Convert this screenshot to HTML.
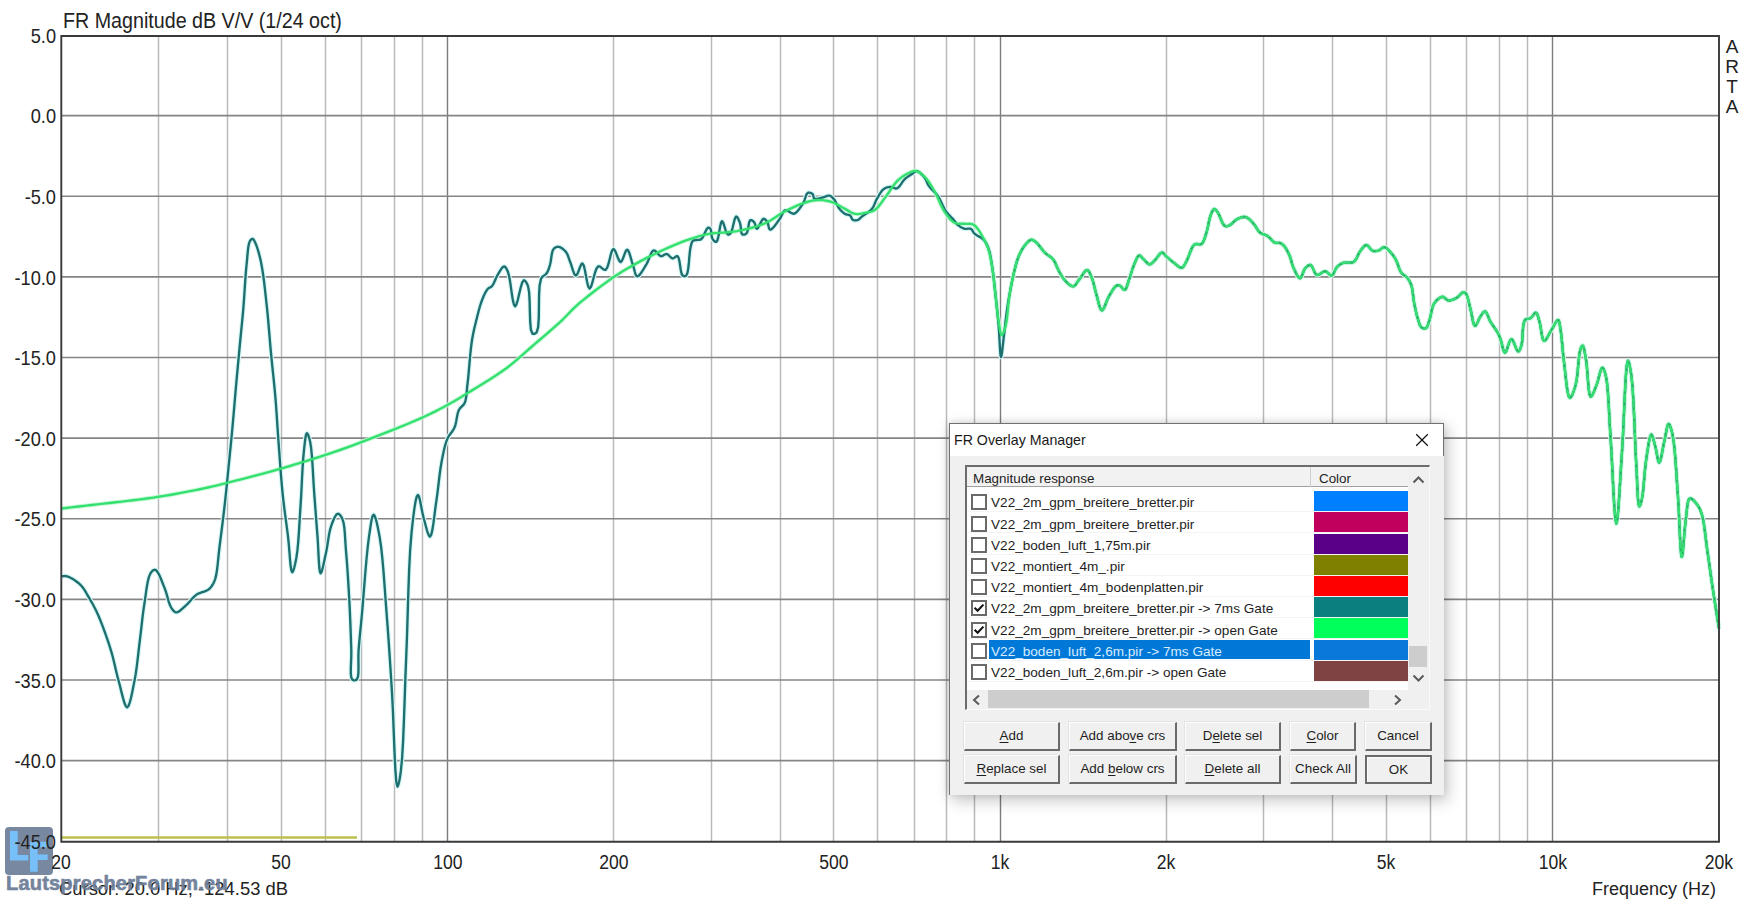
<!DOCTYPE html>
<html><head><meta charset="utf-8"><style>
*{margin:0;padding:0;box-sizing:border-box}
html,body{width:1760px;height:902px;overflow:hidden;background:#fff;font-family:"Liberation Sans",sans-serif;color:#222}
.abs{position:absolute}
.yl{position:absolute;left:0;width:56px;text-align:right;font-size:19.8px;line-height:22px;color:#222;transform:scaleX(0.92);transform-origin:56px 0}
.xl{position:absolute;top:851px;width:80px;text-align:center;font-size:19.5px;line-height:22px;color:#222;transform:scaleX(0.9)}
#title{position:absolute;left:63px;top:8.5px;font-size:21.4px;line-height:24px;color:#222;transform:scaleX(0.92);transform-origin:0 0;white-space:nowrap}
#arta{position:absolute;left:1723px;top:37px;font-size:19px;line-height:20px;width:18px;text-align:center;color:#222}
#cursor{position:absolute;left:59px;top:878px;font-size:18.4px;line-height:22px;color:#222}
#freq{position:absolute;left:1592px;top:878px;font-size:18px;line-height:22px;color:#222}
svg{position:absolute;left:0;top:0}
#lf{position:absolute;left:6px;top:871px;font-size:20px;line-height:24px;font-weight:bold;color:#6a7b96;opacity:0.93;letter-spacing:0.2px;-webkit-text-stroke:0.6px #6a7b96}
.d{position:absolute}
#dshadow{position:absolute;left:949px;top:423px;width:495px;height:372px;box-shadow:3px 5px 14px 1px rgba(0,0,0,0.22), -1px -1px 7px rgba(0,0,0,0.10)}
#dbg{position:absolute;left:949px;top:423px;width:495px;height:372px;background:#f0f0f0}
#dtb{position:absolute;left:949px;top:423px;width:495px;height:33px;background:#fff;border:1px solid #707070;border-bottom:none}
#dlb{position:absolute;left:949px;top:423px;width:1px;height:372px;background:#707070}
#dtt{position:absolute;left:954px;top:432px;font-size:14.2px;line-height:17px;color:#1a1a1a;white-space:nowrap}
#lvb{position:absolute;left:965px;top:465px;width:465px;height:245px;background:#fff;border-top:2px solid #6c6c6c;border-left:2px solid #6c6c6c;border-right:1px solid #fafafa;border-bottom:1px solid #fafafa}
#lvh{position:absolute;left:967px;top:467px;width:441px;height:20px;background:#f2f2f2;border-bottom:1px solid #a0a0a0}
.ht{position:absolute;top:471px;font-size:13.4px;line-height:16px;color:#1e1e1e;white-space:nowrap}
#lvd{position:absolute;left:1310px;top:467px;width:1px;height:20px;background:#cfcfcf}
.cb{position:absolute;left:971px;width:16px;height:16px;border:2px solid #6a6a6a;background:#fff}
.rt{position:absolute;left:991px;font-size:13.6px;line-height:17px;color:#1e1e1e;white-space:nowrap}
.sw{position:absolute;left:1314px;width:94px;height:20px}
.sep{position:absolute;left:967px;width:441px;height:1px;background:#f4f4f4}
#sel{position:absolute;left:989px;top:640px;width:321px;height:19px;background:#0078d7}
#vsb{position:absolute;left:1408px;top:467px;width:21px;height:223px;background:#f0f0f0}
#vth{position:absolute;left:1409px;top:646px;width:18px;height:21px;background:#cdcdcd}
#hsb{position:absolute;left:967px;top:690px;width:462px;height:19px;background:#f0f0f0}
#hth{position:absolute;left:988px;top:690px;width:381px;height:18px;background:#cdcdcd}
.btn{position:absolute;height:29px;background:#f0f0f0;border-top:1px solid #fdfdfd;border-left:1px solid #fdfdfd;border-right:2px solid #6a6a6a;border-bottom:2px solid #6a6a6a;font-size:13.4px;line-height:26px;text-align:center;color:#1e1e1e;box-shadow:-1px -1px 0 #e3e3e3}
.btn u{text-decoration:underline;text-underline-offset:2px;text-decoration-thickness:1px}
.btn.ok{border:2px solid #6a6a6a;box-shadow:inset 1px 1px 0 #fdfdfd}

</style></head><body>
<svg width="60" height="60" style="position:absolute;left:0;top:820px;opacity:0.92">
<rect x="5" y="7" width="48" height="48" rx="4" fill="#6c7e98"/>
<path d="M10 11H17.7V35H28.3V40.5H10Z" fill="#6cbaf8"/>
<path d="M30 21.8H47.7V27.3H37.7V34.5H47.7V40H37.7V51.8H30Z" fill="#6cbaf8"/>
</svg>
<div id="title">FR Magnitude dB V/V (1/24 oct)</div>
<div class="yl" style="top:24.7px">5.0</div><div class="yl" style="top:105.3px">0.0</div><div class="yl" style="top:185.9px">-5.0</div><div class="yl" style="top:266.6px">-10.0</div><div class="yl" style="top:347.2px">-15.0</div><div class="yl" style="top:427.8px">-20.0</div><div class="yl" style="top:508.4px">-25.0</div><div class="yl" style="top:589.1px">-30.0</div><div class="yl" style="top:669.7px">-35.0</div><div class="yl" style="top:750.3px">-40.0</div><div class="yl" style="top:830.9px">-45.0</div>
<div class="xl" style="left:21.4px">20</div><div class="xl" style="left:241.3px">50</div><div class="xl" style="left:407.6px">100</div><div class="xl" style="left:573.9px">200</div><div class="xl" style="left:793.8px">500</div><div class="xl" style="left:960.1px">1k</div><div class="xl" style="left:1126.4px">2k</div><div class="xl" style="left:1346.3px">5k</div><div class="xl" style="left:1512.6px">10k</div><div class="xl" style="left:1678.9px">20k</div>
<div id="arta">A<br>R<br>T<br>A</div>
<div id="cursor">Cursor: 20.0 Hz, -124.53 dB</div>
<div id="freq">Frequency (Hz)</div>
<svg width="1760" height="902">
<line x1="158.5" y1="36" x2="158.5" y2="841" stroke="#bababa" stroke-width="1.5"/>
<line x1="227.5" y1="36" x2="227.5" y2="841" stroke="#bababa" stroke-width="1.5"/>
<line x1="281.5" y1="36" x2="281.5" y2="841" stroke="#bababa" stroke-width="1.5"/>
<line x1="325.5" y1="36" x2="325.5" y2="841" stroke="#bababa" stroke-width="1.5"/>
<line x1="361.5" y1="36" x2="361.5" y2="841" stroke="#bababa" stroke-width="1.5"/>
<line x1="394.5" y1="36" x2="394.5" y2="841" stroke="#bababa" stroke-width="1.5"/>
<line x1="422.5" y1="36" x2="422.5" y2="841" stroke="#bababa" stroke-width="1.5"/>
<line x1="447.5" y1="36" x2="447.5" y2="841" stroke="#7c7c7c" stroke-width="1.4"/>
<line x1="613.5" y1="36" x2="613.5" y2="841" stroke="#bababa" stroke-width="1.5"/>
<line x1="711.5" y1="36" x2="711.5" y2="841" stroke="#bababa" stroke-width="1.5"/>
<line x1="780.5" y1="36" x2="780.5" y2="841" stroke="#bababa" stroke-width="1.5"/>
<line x1="833.5" y1="36" x2="833.5" y2="841" stroke="#bababa" stroke-width="1.5"/>
<line x1="877.5" y1="36" x2="877.5" y2="841" stroke="#bababa" stroke-width="1.5"/>
<line x1="914.5" y1="36" x2="914.5" y2="841" stroke="#bababa" stroke-width="1.5"/>
<line x1="946.5" y1="36" x2="946.5" y2="841" stroke="#bababa" stroke-width="1.5"/>
<line x1="974.5" y1="36" x2="974.5" y2="841" stroke="#bababa" stroke-width="1.5"/>
<line x1="1000.5" y1="36" x2="1000.5" y2="841" stroke="#7c7c7c" stroke-width="1.4"/>
<line x1="1166.5" y1="36" x2="1166.5" y2="841" stroke="#bababa" stroke-width="1.5"/>
<line x1="1263.5" y1="36" x2="1263.5" y2="841" stroke="#bababa" stroke-width="1.5"/>
<line x1="1332.5" y1="36" x2="1332.5" y2="841" stroke="#bababa" stroke-width="1.5"/>
<line x1="1386.5" y1="36" x2="1386.5" y2="841" stroke="#bababa" stroke-width="1.5"/>
<line x1="1430.5" y1="36" x2="1430.5" y2="841" stroke="#bababa" stroke-width="1.5"/>
<line x1="1466.5" y1="36" x2="1466.5" y2="841" stroke="#bababa" stroke-width="1.5"/>
<line x1="1499.5" y1="36" x2="1499.5" y2="841" stroke="#bababa" stroke-width="1.5"/>
<line x1="1527.5" y1="36" x2="1527.5" y2="841" stroke="#bababa" stroke-width="1.5"/>
<line x1="1552.5" y1="36" x2="1552.5" y2="841" stroke="#7c7c7c" stroke-width="1.4"/>
<line x1="61" y1="115.60" x2="1719" y2="115.60" stroke="#858585" stroke-width="1.6"/>
<line x1="61" y1="196.22" x2="1719" y2="196.22" stroke="#858585" stroke-width="1.6"/>
<line x1="61" y1="276.85" x2="1719" y2="276.85" stroke="#858585" stroke-width="1.6"/>
<line x1="61" y1="357.48" x2="1719" y2="357.48" stroke="#858585" stroke-width="1.6"/>
<line x1="61" y1="438.10" x2="1719" y2="438.10" stroke="#858585" stroke-width="1.6"/>
<line x1="61" y1="518.73" x2="1719" y2="518.73" stroke="#858585" stroke-width="1.6"/>
<line x1="61" y1="599.35" x2="1719" y2="599.35" stroke="#858585" stroke-width="1.6"/>
<line x1="61" y1="679.98" x2="1719" y2="679.98" stroke="#858585" stroke-width="1.6"/>
<line x1="61" y1="760.60" x2="1719" y2="760.60" stroke="#858585" stroke-width="1.6"/>
<line x1="61" y1="837.5" x2="357" y2="837.5" stroke="#bcbf4a" stroke-width="2.7"/>
<defs><polyline id="ct" fill="none" stroke-linejoin="round" points="61.00,576.30 62.00,576.25 62.97,576.15 63.95,576.05 64.94,576.00 65.99,576.07 67.10,576.30 69.12,577.06 71.38,578.18 73.76,579.60 76.14,581.23 78.39,582.99 80.40,584.80 82.16,586.74 83.74,588.86 85.20,591.12 86.58,593.47 87.93,595.84 89.30,598.20 90.72,600.61 92.10,603.04 93.45,605.52 94.77,608.03 96.05,610.59 97.30,613.20 98.57,616.03 99.79,618.92 100.97,621.87 102.12,624.86 103.26,627.91 104.40,631.00 105.63,634.39 106.84,637.82 108.04,641.31 109.22,644.87 110.37,648.53 111.50,652.30 112.73,656.80 113.89,661.49 115.02,666.30 116.15,671.16 117.34,675.98 118.60,680.70 119.94,685.82 121.36,691.63 122.82,697.41 124.29,702.44 125.73,705.98 127.10,707.30 128.43,706.00 129.74,702.58 131.03,697.69 132.27,691.98 133.43,686.10 134.50,680.70 135.64,674.40 136.62,667.67 137.49,660.70 138.30,653.63 139.09,646.64 139.90,639.90 140.64,633.81 141.33,627.79 142.00,621.84 142.69,615.95 143.44,610.14 144.30,604.40 145.14,598.71 145.97,592.68 146.85,586.70 147.85,581.20 149.05,576.60 150.50,573.30 151.22,572.26 152.00,571.34 152.81,570.59 153.64,570.05 154.48,569.77 155.30,569.80 156.87,571.00 158.51,573.55 160.16,577.01 161.77,580.94 163.30,584.89 164.70,588.40 165.87,591.61 166.87,595.01 167.80,598.43 168.73,601.68 169.73,604.60 170.90,607.00 171.69,608.29 172.50,609.51 173.35,610.60 174.23,611.50 175.18,612.12 176.20,612.40 177.64,612.14 179.22,611.27 180.90,609.97 182.63,608.42 184.34,606.80 186.00,605.30 187.77,603.62 189.50,601.73 191.21,599.75 192.95,597.83 194.74,596.07 196.60,594.60 198.38,593.60 200.29,592.81 202.25,592.15 204.13,591.54 205.85,590.92 207.30,590.20 208.07,589.71 208.74,589.24 209.34,588.77 209.90,588.25 210.44,587.67 211.00,587.00 211.79,585.94 212.56,584.77 213.30,583.47 214.01,582.03 214.68,580.41 215.30,578.60 216.27,574.60 217.04,569.79 217.68,564.39 218.26,558.65 218.84,552.77 219.50,547.00 220.36,540.32 221.24,533.39 222.13,526.28 223.02,519.09 223.88,511.90 224.70,504.80 225.48,497.71 226.23,490.54 226.95,483.37 227.66,476.29 228.34,469.37 229.00,462.70 229.55,457.26 230.06,452.12 230.56,447.10 231.06,442.03 231.57,436.76 232.10,431.10 232.82,423.14 233.58,414.54 234.35,405.59 235.12,396.59 235.88,387.86 236.60,379.70 237.17,373.40 237.73,367.38 238.27,361.54 238.81,355.79 239.35,350.04 239.90,344.20 240.47,338.33 241.04,332.51 241.62,326.70 242.19,320.83 242.76,314.85 243.30,308.70 243.86,301.44 244.39,293.77 244.89,285.97 245.41,278.30 245.97,271.02 246.60,264.40 247.04,259.79 247.45,255.13 247.87,250.69 248.37,246.71 249.03,243.43 249.90,241.10 250.31,240.46 250.75,239.90 251.22,239.44 251.69,239.11 252.16,238.92 252.60,238.90 253.11,239.14 253.60,239.65 254.08,240.38 254.55,241.27 255.02,242.26 255.50,243.30 256.44,245.56 257.39,248.27 258.34,251.35 259.27,254.74 260.16,258.35 261.00,262.10 262.12,268.10 263.14,274.77 264.08,281.92 264.95,289.36 265.78,296.88 266.60,304.30 267.43,312.25 268.18,320.38 268.89,328.62 269.58,336.87 270.27,345.06 271.00,353.10 271.74,360.62 272.50,368.06 273.27,375.44 274.02,382.79 274.74,390.13 275.40,397.50 275.98,404.81 276.50,412.06 276.99,419.31 277.46,426.61 277.96,434.02 278.50,441.60 279.13,450.18 279.77,459.04 280.43,468.03 281.13,477.01 281.89,485.81 282.70,494.30 283.51,501.64 284.39,508.82 285.31,515.86 286.24,522.80 287.14,529.64 288.00,536.40 288.71,543.35 289.35,551.17 289.97,558.90 290.62,565.61 291.35,570.36 292.20,572.20 292.85,571.60 293.56,569.87 294.31,567.32 295.06,564.22 295.77,560.85 296.40,557.50 297.38,550.63 298.18,542.38 298.86,533.21 299.45,523.59 300.01,513.97 300.60,504.80 301.16,495.71 301.65,486.25 302.11,476.79 302.59,467.70 303.14,459.34 303.80,452.10 304.24,447.96 304.70,443.72 305.18,439.74 305.70,436.40 306.27,434.10 306.90,433.20 307.39,433.51 307.93,434.43 308.50,435.83 309.06,437.58 309.61,439.55 310.10,441.60 311.10,447.80 311.90,455.99 312.56,465.46 313.14,475.48 313.70,485.33 314.30,494.30 314.86,501.62 315.40,508.79 315.93,515.82 316.44,522.75 316.97,529.60 317.50,536.40 317.96,543.53 318.36,551.58 318.76,559.56 319.22,566.49 319.82,571.39 320.60,573.30 321.34,572.36 322.20,569.77 323.13,566.05 324.09,561.72 325.03,557.30 325.90,553.30 326.78,548.86 327.56,544.06 328.31,539.14 329.11,534.32 330.05,529.83 331.20,525.90 332.16,523.26 333.23,520.55 334.36,518.00 335.52,515.85 336.68,514.34 337.80,513.70 338.59,513.84 339.41,514.38 340.22,515.24 341.01,516.35 341.74,517.63 342.40,519.00 343.50,522.60 344.26,527.25 344.78,532.69 345.17,538.62 345.54,544.79 346.00,550.90 346.68,559.01 347.32,567.74 347.93,576.84 348.50,586.08 349.03,595.21 349.50,604.00 349.89,611.97 350.23,619.95 350.53,627.84 350.81,635.54 351.06,642.96 351.30,650.00 351.30,655.78 351.06,661.88 350.82,667.80 350.78,673.04 351.16,677.11 352.20,679.50 352.85,679.96 353.64,680.23 354.49,680.32 355.34,680.23 356.13,679.96 356.80,679.50 357.90,677.06 358.40,672.90 358.51,667.56 358.44,661.59 358.40,655.56 358.60,650.00 359.06,644.46 359.55,638.98 360.09,633.41 360.66,627.61 361.27,621.42 361.90,614.70 362.91,602.91 364.00,589.18 365.16,574.60 366.39,560.27 367.67,547.27 369.00,536.70 369.72,531.73 370.44,526.73 371.18,522.11 371.95,518.29 372.75,515.68 373.60,514.70 374.54,515.64 375.55,518.23 376.61,522.05 377.66,526.68 378.67,531.71 379.60,536.70 381.11,546.90 382.42,559.12 383.59,572.67 384.66,586.90 385.68,601.14 386.70,614.70 387.69,627.61 388.61,640.43 389.48,653.24 390.33,666.16 391.16,679.28 392.00,692.70 392.88,710.00 393.67,730.26 394.46,750.77 395.30,768.80 396.26,781.65 397.40,786.60 397.95,785.99 398.54,784.24 399.16,781.60 399.77,778.30 400.36,774.58 400.90,770.70 402.12,757.84 403.10,740.74 403.92,720.75 404.66,699.25 405.40,677.61 406.20,657.20 407.01,636.03 407.69,613.64 408.37,591.09 409.16,569.46 410.16,549.81 411.50,533.20 412.41,524.65 413.41,515.97 414.47,507.90 415.58,501.21 416.73,496.62 417.90,494.90 418.84,496.15 419.80,499.48 420.78,504.16 421.79,509.46 422.83,514.65 423.90,519.00 424.88,522.54 425.92,526.46 426.98,530.30 428.03,533.60 429.05,535.88 430.00,536.70 431.21,534.85 432.33,530.13 433.38,523.48 434.38,515.83 435.35,508.13 436.30,501.30 437.23,494.72 438.08,487.90 438.88,481.01 439.70,474.24 440.59,467.78 441.60,461.80 442.43,457.49 443.27,453.32 444.14,449.34 445.10,445.57 446.17,442.04 447.40,438.80 448.50,436.63 449.74,434.71 451.05,432.94 452.35,431.19 453.56,429.35 454.60,427.30 455.51,424.57 456.18,421.54 456.74,418.39 457.30,415.30 457.98,412.44 458.90,410.00 459.77,408.60 460.78,407.45 461.86,406.43 462.92,405.40 463.89,404.23 464.70,402.80 465.54,400.33 466.11,397.56 466.50,394.51 466.80,391.21 467.10,387.70 467.50,384.00 468.20,377.64 468.87,370.30 469.55,362.48 470.26,354.63 471.04,347.25 471.90,340.80 472.54,336.99 473.21,333.51 473.90,330.25 474.63,327.10 475.39,323.95 476.20,320.70 477.05,317.26 477.93,313.73 478.85,310.21 479.81,306.77 480.82,303.51 481.90,300.50 482.78,298.27 483.70,296.07 484.65,293.98 485.63,292.06 486.65,290.38 487.70,289.00 488.39,288.36 489.12,287.91 489.85,287.55 490.58,287.19 491.31,286.74 492.00,286.10 493.02,284.64 493.97,282.80 494.89,280.72 495.81,278.56 496.77,276.47 497.80,274.60 498.81,272.94 499.88,271.14 500.99,269.40 502.09,267.91 503.13,266.88 504.10,266.50 504.80,266.71 505.46,267.26 506.09,268.10 506.70,269.16 507.30,270.38 507.90,271.70 509.21,276.44 510.38,283.43 511.48,291.30 512.59,298.66 513.77,304.12 515.10,306.30 516.41,304.46 517.82,299.72 519.29,293.52 520.78,287.27 522.26,282.39 523.70,280.30 524.44,280.43 525.19,281.01 525.95,281.94 526.68,283.16 527.37,284.57 528.00,286.10 529.12,292.22 529.63,301.41 529.88,311.89 530.20,321.92 530.93,329.75 532.40,333.60 533.05,333.88 533.78,333.93 534.55,333.77 535.32,333.42 536.05,332.89 536.70,332.20 538.18,327.02 538.78,317.95 538.92,306.79 539.05,295.35 539.60,285.45 541.00,278.90 541.86,277.47 542.86,276.42 543.92,275.60 544.98,274.88 545.96,274.09 546.80,273.10 547.51,271.88 548.10,270.61 548.61,269.28 549.07,267.87 549.53,266.38 550.00,264.80 550.57,262.30 551.03,259.36 551.46,256.28 551.96,253.34 552.64,250.81 553.60,249.00 554.30,248.27 555.08,247.69 555.93,247.24 556.81,246.94 557.71,246.79 558.60,246.80 559.79,247.09 561.08,247.70 562.39,248.56 563.67,249.59 564.86,250.73 565.90,251.90 566.84,253.30 567.61,254.86 568.26,256.56 568.87,258.35 569.50,260.18 570.20,262.00 571.09,264.46 572.00,267.37 572.94,270.34 573.90,272.96 574.88,274.85 575.90,275.60 576.94,274.71 578.03,272.43 579.16,269.46 580.28,266.49 581.37,264.24 582.40,263.40 583.69,265.36 584.88,270.03 586.01,276.06 587.13,282.07 588.31,286.71 589.60,288.60 590.89,287.09 592.19,283.19 593.54,278.03 594.99,272.74 596.56,268.45 598.30,266.30 599.43,266.34 600.65,267.05 601.92,268.10 603.18,269.15 604.39,269.86 605.50,269.90 607.10,267.89 608.47,263.92 609.71,259.01 610.88,254.21 612.08,250.52 613.40,249.00 614.57,249.91 615.77,252.30 616.99,255.45 618.21,258.60 619.42,261.03 620.60,262.00 621.72,261.07 622.84,258.77 623.95,255.80 625.03,252.83 626.08,250.57 627.10,249.70 628.15,250.54 629.16,252.63 630.14,255.53 631.08,258.82 632.00,262.06 632.90,264.80 633.61,267.07 634.25,269.57 634.86,272.03 635.51,274.17 636.27,275.72 637.20,276.40 638.50,275.91 640.03,274.32 641.69,272.00 643.38,269.29 645.02,266.54 646.50,264.10 647.79,261.62 648.96,258.75 650.08,255.85 651.19,253.25 652.38,251.32 653.70,250.40 654.83,250.64 656.03,251.62 657.27,252.99 658.53,254.43 659.78,255.61 661.00,256.20 661.97,256.12 662.93,255.70 663.88,255.11 664.83,254.52 665.77,254.09 666.70,254.00 667.69,254.41 668.67,255.22 669.63,256.22 670.59,257.22 671.54,258.01 672.50,258.40 673.35,258.26 674.23,257.77 675.10,257.12 675.95,256.51 676.76,256.14 677.50,256.20 678.64,257.95 679.46,261.38 680.12,265.66 680.76,270.00 681.54,273.58 682.60,275.60 683.16,275.94 683.78,276.16 684.41,276.23 685.05,276.17 685.65,275.96 686.20,275.60 687.41,273.09 688.25,268.60 688.86,262.95 689.35,257.01 689.86,251.61 690.50,247.60 690.84,246.15 691.14,244.82 691.45,243.62 691.79,242.57 692.23,241.70 692.80,241.00 693.33,240.64 693.92,240.41 694.56,240.28 695.24,240.20 695.92,240.12 696.60,240.00 697.36,239.89 698.15,239.85 698.95,239.82 699.75,239.72 700.54,239.51 701.30,239.10 702.50,237.71 703.67,235.55 704.79,233.06 705.88,230.65 706.91,228.76 707.90,227.80 708.33,227.71 708.75,227.73 709.17,227.85 709.57,228.06 709.95,228.35 710.30,228.70 710.84,229.85 711.17,231.59 711.41,233.65 711.66,235.76 712.02,237.66 712.60,239.10 713.14,239.85 713.76,240.57 714.43,241.21 715.12,241.68 715.79,241.93 716.40,241.90 717.51,240.08 718.46,236.19 719.32,231.29 720.15,226.45 721.02,222.73 722.00,221.20 722.88,222.07 723.80,224.37 724.75,227.43 725.72,230.56 726.70,233.11 727.70,234.40 728.16,234.53 728.63,234.52 729.11,234.39 729.58,234.15 730.05,233.82 730.50,233.40 731.54,231.39 732.52,228.08 733.44,224.19 734.35,220.47 735.26,217.66 736.20,216.50 736.85,216.77 737.53,217.58 738.20,218.78 738.86,220.21 739.47,221.70 740.00,223.10 740.47,224.97 740.75,227.20 740.96,229.53 741.21,231.69 741.62,233.40 742.30,234.40 742.89,234.63 743.60,234.68 744.36,234.56 745.13,234.30 745.86,233.90 746.50,233.40 747.36,231.80 747.97,229.29 748.45,226.38 748.92,223.56 749.50,221.33 750.30,220.20 750.88,220.10 751.53,220.24 752.21,220.56 752.89,221.02 753.54,221.55 754.10,222.10 754.68,223.07 755.14,224.42 755.52,225.89 755.91,227.25 756.34,228.27 756.90,228.70 757.82,228.04 758.88,226.26 760.05,223.91 761.24,221.52 762.41,219.64 763.50,218.80 764.17,218.88 764.85,219.24 765.51,219.82 766.15,220.54 766.75,221.32 767.30,222.10 767.85,223.30 768.26,224.85 768.61,226.50 768.97,228.02 769.44,229.16 770.10,229.70 771.33,229.31 772.87,227.95 774.59,225.94 776.35,223.62 778.04,221.30 779.50,219.30 780.55,217.64 781.48,215.79 782.34,213.94 783.20,212.28 784.13,211.00 785.20,210.30 786.23,210.28 787.37,210.68 788.56,211.34 789.73,212.09 790.83,212.77 791.80,213.20 792.32,213.37 792.78,213.53 793.22,213.67 793.65,213.75 794.10,213.73 794.60,213.60 795.87,212.78 797.32,211.34 798.87,209.47 800.41,207.37 801.85,205.25 803.10,203.30 804.02,201.45 804.78,199.36 805.45,197.25 806.12,195.33 806.87,193.80 807.80,192.90 808.54,192.67 809.37,192.65 810.24,192.80 811.09,193.08 811.86,193.46 812.50,193.90 812.94,194.53 813.21,195.37 813.40,196.33 813.59,197.26 813.90,198.06 814.40,198.60 815.33,198.88 816.51,198.85 817.85,198.62 819.26,198.28 820.67,197.90 822.00,197.60 823.28,197.26 824.60,196.79 825.90,196.29 827.18,195.88 828.39,195.65 829.50,195.70 830.40,196.01 831.23,196.49 832.02,197.12 832.77,197.85 833.49,198.66 834.20,199.50 835.04,200.70 835.80,202.11 836.52,203.63 837.25,205.18 838.02,206.67 838.90,208.00 839.82,209.15 840.80,210.28 841.83,211.35 842.88,212.34 843.95,213.20 845.00,213.90 845.85,214.28 846.73,214.50 847.62,214.64 848.48,214.79 849.28,215.01 850.00,215.40 850.60,216.03 851.07,216.85 851.49,217.75 851.91,218.63 852.39,219.38 853.00,219.90 853.73,220.18 854.56,220.33 855.46,220.36 856.36,220.29 857.22,220.13 858.00,219.90 858.63,219.59 859.19,219.17 859.71,218.66 860.23,218.10 860.82,217.51 861.50,216.90 862.97,215.81 864.74,214.62 866.67,213.31 868.61,211.92 870.40,210.45 871.90,208.90 872.97,207.37 873.83,205.74 874.57,204.03 875.27,202.30 876.02,200.57 876.90,198.90 877.93,197.11 879.01,195.22 880.14,193.35 881.33,191.60 882.58,190.08 883.90,188.90 884.99,188.23 886.15,187.72 887.35,187.35 888.55,187.10 889.75,186.96 890.90,186.90 891.93,187.04 892.94,187.41 893.94,187.87 894.94,188.28 895.92,188.50 896.90,188.40 898.25,187.57 899.57,186.14 900.87,184.33 902.18,182.38 903.51,180.53 904.90,179.00 906.20,177.91 907.57,176.89 908.96,175.94 910.33,175.07 911.62,174.25 912.80,173.50 913.53,172.95 914.19,172.37 914.81,171.82 915.43,171.37 916.09,171.07 916.80,171.00 918.04,171.40 919.43,172.31 920.89,173.59 922.32,175.06 923.66,176.58 924.80,178.00 925.61,179.23 926.26,180.52 926.81,181.85 927.36,183.20 928.00,184.56 928.80,185.90 930.06,187.51 931.54,189.09 933.13,190.68 934.77,192.32 936.36,194.05 937.80,195.90 939.23,198.22 940.54,200.78 941.79,203.44 943.02,206.10 944.31,208.63 945.70,210.90 947.00,212.62 948.38,214.24 949.80,215.77 951.20,217.22 952.52,218.59 953.70,219.90 954.43,220.81 955.07,221.68 955.67,222.51 956.27,223.31 956.93,224.07 957.70,224.80 958.71,225.61 959.84,226.41 961.04,227.17 962.27,227.84 963.51,228.40 964.70,228.80 965.73,228.93 966.78,228.86 967.83,228.70 968.86,228.57 969.82,228.56 970.70,228.80 971.47,229.34 972.10,230.10 972.68,231.00 973.26,231.97 973.91,232.93 974.70,233.80 976.00,234.79 977.53,235.72 979.18,236.63 980.84,237.58 982.38,238.62 983.70,239.80 984.76,241.07 985.68,242.41 986.50,243.84 987.24,245.37 987.93,247.02 988.60,248.80 989.45,251.57 990.17,254.64 990.79,257.94 991.34,261.40 991.87,264.95 992.40,268.50 993.00,272.65 993.54,276.94 994.05,281.34 994.53,285.82 995.01,290.35 995.50,294.90 996.04,299.79 996.58,304.75 997.11,309.77 997.63,314.82 998.13,319.90 998.60,325.00 999.03,331.01 999.41,337.95 999.77,344.92 1000.13,351.02 1000.53,355.35 1001.00,357.00 1001.45,355.91 1001.94,352.99 1002.45,348.85 1002.98,344.07 1003.50,339.26 1004.00,335.00 1004.51,330.85 1005.01,326.55 1005.50,322.21 1005.99,317.92 1006.49,313.82 1007.00,310.00 1007.40,307.30 1007.78,304.80 1008.17,302.41 1008.58,300.03 1009.02,297.56 1009.50,294.90 1010.17,291.25 1010.90,287.32 1011.68,283.25 1012.50,279.19 1013.34,275.26 1014.20,271.60 1014.90,268.78 1015.59,266.06 1016.30,263.43 1017.05,260.90 1017.88,258.45 1018.80,256.10 1019.70,254.08 1020.66,252.10 1021.67,250.20 1022.74,248.39 1023.85,246.72 1025.00,245.20 1025.98,244.02 1027.00,242.83 1028.06,241.73 1029.12,240.80 1030.17,240.13 1031.20,239.80 1031.99,239.81 1032.76,240.01 1033.52,240.38 1034.29,240.88 1035.08,241.46 1035.90,242.10 1037.34,243.45 1038.86,245.22 1040.43,247.23 1042.03,249.32 1043.62,251.30 1045.20,253.00 1046.52,254.14 1047.88,255.11 1049.24,256.02 1050.57,256.94 1051.83,257.97 1053.00,259.20 1054.21,260.97 1055.28,263.01 1056.26,265.19 1057.20,267.42 1058.16,269.59 1059.20,271.60 1060.17,273.29 1061.13,274.96 1062.12,276.58 1063.14,278.13 1064.22,279.58 1065.40,280.90 1066.60,282.12 1067.91,283.39 1069.27,284.57 1070.64,285.54 1071.97,286.16 1073.20,286.30 1074.32,285.86 1075.36,284.92 1076.36,283.64 1077.35,282.17 1078.35,280.67 1079.40,279.30 1080.67,277.61 1082.01,275.58 1083.36,273.52 1084.69,271.70 1085.95,270.43 1087.10,270.00 1088.00,270.40 1088.84,271.37 1089.63,272.75 1090.38,274.38 1091.10,276.11 1091.80,277.80 1092.70,280.24 1093.49,283.00 1094.23,285.96 1094.94,289.01 1095.69,292.02 1096.50,294.90 1097.33,297.89 1098.17,301.25 1099.03,304.60 1099.94,307.50 1100.89,309.57 1101.90,310.40 1102.95,309.71 1104.05,307.78 1105.20,305.05 1106.40,301.96 1107.63,298.93 1108.90,296.40 1110.13,294.31 1111.43,292.10 1112.76,289.95 1114.09,288.03 1115.38,286.52 1116.60,285.60 1117.19,285.38 1117.76,285.29 1118.32,285.31 1118.87,285.41 1119.43,285.58 1120.00,285.80 1120.79,286.35 1121.60,287.22 1122.42,288.21 1123.22,289.12 1123.98,289.75 1124.70,289.90 1125.60,289.20 1126.41,287.70 1127.16,285.66 1127.87,283.33 1128.58,280.96 1129.30,278.80 1130.09,276.55 1130.84,274.18 1131.58,271.76 1132.34,269.36 1133.14,267.05 1134.00,264.90 1134.80,263.01 1135.63,260.97 1136.49,259.01 1137.38,257.30 1138.28,256.07 1139.20,255.50 1139.85,255.59 1140.51,256.02 1141.17,256.68 1141.85,257.47 1142.56,258.28 1143.30,259.00 1144.29,259.94 1145.35,261.08 1146.45,262.24 1147.56,263.27 1148.65,264.01 1149.70,264.30 1150.59,264.12 1151.46,263.62 1152.31,262.88 1153.16,262.01 1154.02,261.08 1154.90,260.20 1156.05,258.92 1157.23,257.33 1158.43,255.67 1159.63,254.16 1160.79,253.06 1161.90,252.60 1162.71,252.77 1163.48,253.29 1164.23,254.06 1164.98,254.96 1165.77,255.88 1166.60,256.70 1167.67,257.62 1168.79,258.59 1169.96,259.58 1171.15,260.58 1172.37,261.56 1173.60,262.50 1174.93,263.57 1176.35,264.80 1177.79,266.00 1179.19,267.02 1180.52,267.68 1181.70,267.80 1182.62,267.39 1183.44,266.59 1184.18,265.49 1184.89,264.20 1185.62,262.80 1186.40,261.40 1187.64,258.85 1188.87,255.67 1190.13,252.25 1191.45,248.99 1192.90,246.27 1194.50,244.50 1195.61,244.05 1196.83,244.00 1198.09,244.15 1199.33,244.32 1200.48,244.30 1201.50,243.90 1202.57,242.82 1203.46,241.34 1204.21,239.55 1204.88,237.56 1205.53,235.47 1206.20,233.40 1207.04,230.50 1207.80,227.21 1208.50,223.76 1209.21,220.39 1209.96,217.32 1210.80,214.80 1211.34,213.48 1211.90,212.18 1212.47,210.99 1213.06,210.00 1213.67,209.30 1214.30,209.00 1214.85,209.10 1215.42,209.48 1216.00,210.07 1216.59,210.82 1217.19,211.65 1217.80,212.50 1218.88,214.41 1219.98,216.97 1221.12,219.78 1222.29,222.46 1223.52,224.63 1224.80,225.90 1225.54,226.17 1226.30,226.24 1227.08,226.15 1227.87,225.94 1228.67,225.64 1229.50,225.30 1230.76,224.56 1232.06,223.48 1233.40,222.22 1234.77,220.93 1236.17,219.77 1237.60,218.90 1238.93,218.30 1240.31,217.74 1241.71,217.30 1243.11,217.00 1244.48,216.92 1245.80,217.10 1247.25,217.69 1248.67,218.67 1250.06,219.91 1251.40,221.30 1252.69,222.74 1253.90,224.10 1254.95,225.43 1255.88,226.88 1256.75,228.37 1257.63,229.82 1258.59,231.15 1259.70,232.30 1260.93,233.16 1262.29,233.83 1263.72,234.39 1265.17,234.94 1266.58,235.55 1267.90,236.30 1269.15,237.31 1270.34,238.52 1271.49,239.79 1272.62,240.99 1273.75,242.01 1274.90,242.70 1275.76,242.93 1276.64,242.97 1277.51,242.91 1278.37,242.83 1279.20,242.83 1280.00,243.00 1280.76,243.32 1281.49,243.72 1282.19,244.20 1282.87,244.75 1283.54,245.39 1284.20,246.10 1285.15,247.31 1286.08,248.73 1286.99,250.32 1287.87,252.01 1288.71,253.76 1289.50,255.50 1290.27,257.51 1290.94,259.64 1291.55,261.84 1292.18,264.04 1292.87,266.18 1293.70,268.20 1294.63,270.21 1295.66,272.43 1296.76,274.59 1297.88,276.45 1298.98,277.74 1300.00,278.20 1300.91,277.59 1301.75,276.08 1302.58,274.02 1303.41,271.78 1304.31,269.72 1305.30,268.20 1306.11,267.36 1306.97,266.55 1307.86,265.84 1308.76,265.29 1309.65,264.99 1310.50,265.00 1311.59,265.87 1312.58,267.65 1313.55,269.89 1314.55,272.16 1315.65,274.01 1316.90,275.00 1318.17,274.96 1319.57,274.31 1321.04,273.33 1322.52,272.31 1323.96,271.54 1325.30,271.30 1326.44,271.72 1327.55,272.60 1328.63,273.68 1329.66,274.70 1330.66,275.43 1331.60,275.60 1332.58,274.97 1333.44,273.68 1334.25,272.00 1335.06,270.17 1335.92,268.46 1336.90,267.10 1337.83,266.19 1338.80,265.37 1339.80,264.62 1340.87,263.96 1341.99,263.39 1343.20,262.90 1344.81,262.58 1346.62,262.56 1348.52,262.66 1350.40,262.70 1352.17,262.50 1353.70,261.90 1355.05,260.67 1356.18,258.97 1357.15,257.00 1358.08,254.95 1359.03,252.98 1360.10,251.30 1361.10,249.96 1362.14,248.56 1363.19,247.22 1364.26,246.09 1365.33,245.31 1366.40,245.00 1367.43,245.36 1368.45,246.31 1369.47,247.59 1370.51,248.94 1371.58,250.09 1372.70,250.80 1373.71,251.04 1374.77,251.11 1375.86,251.04 1376.94,250.86 1378.00,250.60 1379.00,250.30 1379.94,249.84 1380.83,249.16 1381.70,248.42 1382.56,247.73 1383.42,247.25 1384.30,247.10 1385.35,247.41 1386.43,248.09 1387.51,249.04 1388.58,250.15 1389.62,251.31 1390.60,252.40 1391.57,253.49 1392.50,254.63 1393.39,255.82 1394.25,257.07 1395.09,258.39 1395.90,259.80 1396.81,261.75 1397.62,263.94 1398.39,266.24 1399.19,268.51 1400.07,270.61 1401.10,272.40 1402.06,273.53 1403.14,274.48 1404.27,275.32 1405.40,276.14 1406.46,277.00 1407.40,278.00 1408.22,279.10 1408.97,280.22 1409.65,281.40 1410.28,282.66 1410.86,284.01 1411.40,285.50 1412.04,287.94 1412.52,290.71 1412.90,293.69 1413.25,296.76 1413.63,299.80 1414.10,302.70 1414.63,305.39 1415.18,308.10 1415.76,310.78 1416.37,313.39 1417.02,315.88 1417.70,318.20 1418.23,319.98 1418.75,321.78 1419.29,323.50 1419.88,325.05 1420.58,326.35 1421.40,327.30 1422.08,327.77 1422.84,328.13 1423.65,328.37 1424.46,328.48 1425.22,328.43 1425.90,328.20 1426.68,327.51 1427.34,326.40 1427.91,324.98 1428.43,323.37 1428.95,321.67 1429.50,320.00 1430.22,317.51 1430.83,314.65 1431.42,311.62 1432.11,308.64 1432.97,305.90 1434.10,303.60 1435.24,302.01 1436.56,300.47 1437.99,299.09 1439.47,297.95 1440.92,297.16 1442.30,296.80 1443.36,297.00 1444.39,297.63 1445.40,298.50 1446.43,299.40 1447.49,300.13 1448.60,300.50 1449.91,300.48 1451.29,300.19 1452.72,299.71 1454.14,299.10 1455.52,298.41 1456.80,297.70 1457.99,296.84 1459.14,295.74 1460.25,294.57 1461.30,293.50 1462.29,292.68 1463.20,292.30 1463.70,292.28 1464.18,292.36 1464.63,292.54 1465.06,292.80 1465.48,293.16 1465.90,293.60 1466.80,295.17 1467.62,297.45 1468.36,300.22 1469.07,303.24 1469.78,306.28 1470.50,309.10 1471.23,312.23 1471.92,315.83 1472.60,319.46 1473.31,322.65 1474.10,324.95 1475.00,325.90 1475.81,325.45 1476.70,324.10 1477.63,322.20 1478.58,320.06 1479.55,318.02 1480.50,316.40 1481.24,315.31 1482.00,314.16 1482.76,313.07 1483.52,312.17 1484.27,311.57 1485.00,311.40 1485.93,312.01 1486.82,313.43 1487.70,315.39 1488.59,317.62 1489.51,319.85 1490.50,321.80 1491.66,323.65 1492.94,325.53 1494.25,327.41 1495.54,329.25 1496.71,331.03 1497.70,332.70 1498.28,333.81 1498.78,334.84 1499.21,335.82 1499.62,336.83 1500.04,337.90 1500.50,339.10 1501.20,341.37 1501.89,344.23 1502.61,347.23 1503.35,349.94 1504.14,351.91 1505.00,352.70 1505.95,351.74 1506.98,349.24 1508.05,345.97 1509.15,342.68 1510.28,340.14 1511.40,339.10 1512.53,339.99 1513.72,342.26 1514.92,345.23 1516.10,348.20 1517.21,350.49 1518.20,351.40 1518.81,351.15 1519.39,350.48 1519.93,349.49 1520.45,348.26 1520.93,346.90 1521.40,345.50 1522.08,341.98 1522.46,337.28 1522.74,332.06 1523.13,327.00 1523.81,322.76 1525.00,320.00 1525.78,319.35 1526.68,319.01 1527.65,318.86 1528.63,318.76 1529.60,318.58 1530.50,318.20 1531.48,317.35 1532.45,316.17 1533.39,314.88 1534.29,313.72 1535.13,312.92 1535.90,312.70 1536.66,313.24 1537.31,314.40 1537.88,316.01 1538.42,317.90 1538.95,319.89 1539.50,321.80 1540.25,324.98 1540.90,328.95 1541.54,333.13 1542.24,336.91 1543.06,339.70 1544.10,340.90 1545.14,340.46 1546.31,339.02 1547.57,336.91 1548.87,334.48 1550.16,332.07 1551.40,330.00 1552.58,328.06 1553.81,325.84 1555.03,323.63 1556.19,321.72 1557.23,320.41 1558.10,320.00 1558.70,320.49 1559.16,321.61 1559.53,323.21 1559.85,325.13 1560.16,327.21 1560.50,329.30 1561.13,333.56 1561.68,338.63 1562.20,344.26 1562.73,350.18 1563.32,356.15 1564.00,361.90 1564.79,368.61 1565.61,376.36 1566.49,384.16 1567.46,391.01 1568.56,395.92 1569.80,397.90 1570.70,397.41 1571.69,395.89 1572.73,393.63 1573.77,390.89 1574.74,387.96 1575.60,385.10 1576.66,379.94 1577.46,373.57 1578.10,366.70 1578.70,360.04 1579.36,354.31 1580.20,350.20 1580.58,349.04 1580.98,347.94 1581.39,346.99 1581.81,346.23 1582.21,345.75 1582.60,345.60 1583.21,346.28 1583.80,347.98 1584.37,350.44 1584.92,353.36 1585.46,356.47 1586.00,359.50 1586.77,365.48 1587.40,373.21 1588.01,381.44 1588.69,388.94 1589.55,394.44 1590.70,396.70 1591.55,396.23 1592.50,394.77 1593.51,392.62 1594.55,390.09 1595.56,387.48 1596.50,385.10 1597.55,382.03 1598.55,378.32 1599.53,374.50 1600.48,371.10 1601.40,368.66 1602.30,367.70 1602.92,368.00 1603.53,368.87 1604.14,370.20 1604.72,371.88 1605.28,373.78 1605.80,375.80 1606.96,382.47 1607.84,391.35 1608.55,401.81 1609.16,413.21 1609.78,424.92 1610.50,436.30 1611.45,451.93 1612.40,470.64 1613.36,489.80 1614.32,506.76 1615.30,518.87 1616.30,523.50 1617.25,519.86 1618.22,510.20 1619.20,496.48 1620.19,480.61 1621.16,464.54 1622.10,450.20 1623.06,433.75 1623.94,414.45 1624.81,394.90 1625.72,377.70 1626.73,365.43 1627.90,360.70 1628.46,361.29 1629.05,362.98 1629.66,365.52 1630.27,368.67 1630.86,372.18 1631.40,375.80 1632.51,386.73 1633.42,401.25 1634.20,417.84 1634.89,435.01 1635.57,451.23 1636.30,465.00 1636.77,473.75 1637.17,482.98 1637.56,491.78 1638.01,499.22 1638.56,504.40 1639.30,506.40 1639.71,506.10 1640.16,505.19 1640.63,503.83 1641.11,502.14 1641.57,500.29 1642.00,498.40 1642.77,493.72 1643.41,487.81 1643.99,481.12 1644.57,474.15 1645.22,467.35 1646.00,461.20 1646.77,455.89 1647.61,450.04 1648.50,444.33 1649.42,439.41 1650.36,435.94 1651.30,434.60 1651.95,435.16 1652.63,436.70 1653.31,438.91 1654.00,441.49 1654.66,444.12 1655.30,446.50 1655.99,449.39 1656.63,452.83 1657.26,456.34 1657.88,459.44 1658.52,461.66 1659.20,462.50 1660.06,461.30 1660.96,458.17 1661.89,453.78 1662.82,448.82 1663.73,443.96 1664.60,439.90 1665.29,436.71 1665.94,433.19 1666.58,429.75 1667.23,426.79 1667.90,424.71 1668.60,423.90 1669.23,424.31 1669.90,425.50 1670.58,427.30 1671.25,429.53 1671.90,432.02 1672.50,434.60 1673.71,441.85 1674.73,451.21 1675.61,461.98 1676.40,473.45 1677.15,484.92 1677.90,495.70 1678.62,507.31 1679.26,520.62 1679.86,533.93 1680.45,545.55 1681.09,553.77 1681.80,556.90 1682.40,554.89 1683.02,549.61 1683.66,542.26 1684.33,534.01 1685.04,526.07 1685.80,519.60 1686.32,515.29 1686.77,510.73 1687.24,506.35 1687.83,502.55 1688.65,499.76 1689.80,498.40 1690.75,498.41 1691.87,498.97 1693.07,499.94 1694.30,501.15 1695.46,502.45 1696.50,503.70 1697.56,505.11 1698.53,506.62 1699.43,508.27 1700.26,510.07 1701.04,512.07 1701.80,514.30 1702.96,518.85 1703.93,524.25 1704.76,530.23 1705.53,536.50 1706.28,542.82 1707.10,548.90 1707.98,554.99 1708.85,561.11 1709.71,567.26 1710.58,573.47 1711.47,579.74 1712.40,586.10 1713.44,593.04 1714.53,600.09 1715.64,607.22 1716.76,614.39 1717.89,621.57 1719.00,628.70"/><polyline id="cg" fill="none" stroke-linejoin="round" points="61.00,508.60 66.04,508.00 71.03,507.41 76.03,506.81 81.07,506.21 86.18,505.61 91.40,505.00 97.30,504.33 103.37,503.66 109.53,502.98 115.70,502.30 121.78,501.61 127.70,500.90 132.99,500.25 138.16,499.61 143.26,498.97 148.33,498.29 153.43,497.58 158.60,496.80 164.08,495.91 169.67,494.96 175.29,493.95 180.84,492.93 186.24,491.90 191.40,490.90 195.65,490.06 199.82,489.20 203.89,488.35 207.81,487.51 211.53,486.69 215.00,485.90 217.28,485.37 219.27,484.89 221.16,484.42 223.11,483.93 225.30,483.37 227.90,482.70 234.66,480.96 243.03,478.79 252.35,476.34 261.97,473.79 271.24,471.29 279.50,469.00 285.24,467.36 290.67,465.77 295.89,464.21 300.97,462.66 306.01,461.09 311.10,459.50 315.84,458.02 320.32,456.61 324.77,455.20 329.39,453.69 334.39,451.98 340.00,450.00 351.53,445.77 365.26,440.60 380.09,434.90 394.90,429.06 408.58,423.49 420.00,418.60 425.69,416.02 430.76,413.62 435.39,411.33 439.81,409.05 444.21,406.70 448.80,404.20 453.64,401.48 458.46,398.67 463.26,395.79 468.05,392.85 472.83,389.88 477.60,386.90 482.43,383.91 487.27,380.92 492.10,377.91 496.91,374.81 501.68,371.59 506.40,368.20 511.31,364.39 516.19,360.35 521.03,356.18 525.82,351.95 530.55,347.76 535.20,343.70 539.49,340.02 543.76,336.37 547.97,332.76 552.10,329.18 556.12,325.62 560.00,322.10 563.23,319.01 566.24,315.97 569.15,312.97 572.12,309.94 575.29,306.87 578.80,303.70 584.00,299.33 589.78,294.70 595.90,289.97 602.09,285.34 608.11,280.98 613.70,277.10 617.68,274.45 621.46,272.06 625.14,269.83 628.80,267.70 632.56,265.58 636.50,263.40 641.09,260.92 645.87,258.41 650.76,255.93 655.68,253.50 660.55,251.18 665.30,249.00 669.53,247.13 673.74,245.32 677.92,243.60 682.03,241.98 686.07,240.48 690.00,239.10 693.23,238.03 696.30,237.04 699.32,236.15 702.37,235.33 705.54,234.58 708.90,233.90 713.26,233.27 717.87,232.87 722.65,232.58 727.51,232.26 732.35,231.81 737.10,231.10 741.92,230.13 746.82,229.02 751.72,227.77 756.50,226.36 761.09,224.81 765.40,223.10 768.83,221.42 772.03,219.54 775.09,217.54 778.08,215.53 781.09,213.58 784.20,211.80 787.34,210.18 790.54,208.60 793.75,207.09 796.94,205.68 800.07,204.40 803.10,203.30 805.54,202.49 807.91,201.75 810.24,201.11 812.54,200.58 814.86,200.21 817.20,200.00 819.57,199.96 821.96,200.07 824.35,200.33 826.74,200.72 829.09,201.25 831.40,201.90 833.75,202.78 836.09,203.90 838.40,205.16 840.66,206.47 842.86,207.75 845.00,208.90 846.75,209.86 848.42,210.86 850.06,211.85 851.68,212.73 853.32,213.44 855.00,213.90 856.64,214.08 858.30,214.05 859.98,213.87 861.67,213.58 863.34,213.24 865.00,212.90 866.68,212.59 868.38,212.27 870.06,211.90 871.73,211.42 873.34,210.77 874.90,209.90 876.70,208.46 878.39,206.66 880.02,204.62 881.62,202.41 883.23,200.14 884.90,197.90 886.86,195.23 888.82,192.33 890.81,189.34 892.82,186.43 894.85,183.73 896.90,181.40 898.52,179.84 900.15,178.42 901.79,177.14 903.45,175.98 905.12,174.93 906.80,174.00 908.29,173.22 909.80,172.45 911.32,171.78 912.83,171.26 914.33,170.98 915.80,171.00 917.35,171.39 918.89,172.12 920.41,173.10 921.90,174.29 923.37,175.61 924.80,177.00 926.58,178.98 928.31,181.26 929.98,183.77 931.61,186.42 933.22,189.16 934.80,191.90 936.50,195.11 938.10,198.57 939.67,202.13 941.25,205.64 942.91,208.95 944.70,211.90 946.24,214.12 947.82,216.28 949.45,218.32 951.13,220.13 952.88,221.65 954.70,222.80 956.28,223.38 957.94,223.67 959.63,223.75 961.35,223.73 963.05,223.71 964.70,223.80 966.24,223.87 967.79,223.84 969.32,223.82 970.83,223.89 972.29,224.19 973.70,224.80 975.58,226.30 977.41,228.41 979.16,230.93 980.81,233.65 982.33,236.34 983.70,238.80 984.72,240.66 985.63,242.45 986.45,244.23 987.21,246.04 987.92,247.95 988.60,250.00 989.39,252.75 990.09,255.66 990.73,258.72 991.31,261.89 991.86,265.16 992.40,268.50 993.01,272.62 993.55,276.94 994.05,281.40 994.52,285.92 995.00,290.44 995.50,294.90 996.00,299.40 996.48,304.02 996.97,308.63 997.47,313.13 998.01,317.40 998.60,321.30 999.06,324.20 999.52,327.28 1000.00,330.23 1000.52,332.74 1001.08,334.50 1001.70,335.20 1002.30,334.83 1002.96,333.74 1003.65,332.13 1004.35,330.16 1005.01,328.02 1005.60,325.90 1006.45,321.76 1007.12,316.78 1007.69,311.28 1008.22,305.59 1008.80,300.02 1009.50,294.90 1010.20,290.76 1010.94,286.69 1011.71,282.72 1012.52,278.87 1013.35,275.16 1014.20,271.60 1014.90,268.78 1015.59,266.06 1016.30,263.43 1017.05,260.90 1017.88,258.45 1018.80,256.10 1019.70,254.08 1020.66,252.10 1021.67,250.20 1022.74,248.39 1023.85,246.72 1025.00,245.20 1025.98,244.02 1027.00,242.83 1028.06,241.73 1029.12,240.80 1030.17,240.13 1031.20,239.80 1031.99,239.81 1032.76,240.01 1033.52,240.38 1034.29,240.88 1035.08,241.46 1035.90,242.10 1037.34,243.45 1038.86,245.22 1040.43,247.23 1042.03,249.32 1043.62,251.30 1045.20,253.00 1046.52,254.14 1047.88,255.11 1049.24,256.02 1050.57,256.94 1051.83,257.97 1053.00,259.20 1054.21,260.97 1055.28,263.01 1056.26,265.19 1057.20,267.42 1058.16,269.59 1059.20,271.60 1060.17,273.29 1061.13,274.96 1062.12,276.58 1063.14,278.13 1064.22,279.58 1065.40,280.90 1066.60,282.12 1067.91,283.39 1069.27,284.57 1070.64,285.54 1071.97,286.16 1073.20,286.30 1074.32,285.86 1075.36,284.92 1076.36,283.64 1077.35,282.17 1078.35,280.67 1079.40,279.30 1080.67,277.61 1082.01,275.58 1083.36,273.52 1084.69,271.70 1085.95,270.43 1087.10,270.00 1088.00,270.40 1088.84,271.37 1089.63,272.75 1090.38,274.38 1091.10,276.11 1091.80,277.80 1092.70,280.24 1093.49,283.00 1094.23,285.96 1094.94,289.01 1095.69,292.02 1096.50,294.90 1097.33,297.89 1098.17,301.25 1099.03,304.60 1099.94,307.50 1100.89,309.57 1101.90,310.40 1102.95,309.71 1104.05,307.78 1105.20,305.05 1106.40,301.96 1107.63,298.93 1108.90,296.40 1110.13,294.31 1111.43,292.10 1112.76,289.95 1114.09,288.03 1115.38,286.52 1116.60,285.60 1117.19,285.38 1117.76,285.29 1118.32,285.31 1118.87,285.41 1119.43,285.58 1120.00,285.80 1120.79,286.35 1121.60,287.22 1122.42,288.21 1123.22,289.12 1123.98,289.75 1124.70,289.90 1125.60,289.20 1126.41,287.70 1127.16,285.66 1127.87,283.33 1128.58,280.96 1129.30,278.80 1130.09,276.55 1130.84,274.18 1131.58,271.76 1132.34,269.36 1133.14,267.05 1134.00,264.90 1134.80,263.01 1135.63,260.97 1136.49,259.01 1137.38,257.30 1138.28,256.07 1139.20,255.50 1139.85,255.59 1140.51,256.02 1141.17,256.68 1141.85,257.47 1142.56,258.28 1143.30,259.00 1144.29,259.94 1145.35,261.08 1146.45,262.24 1147.56,263.27 1148.65,264.01 1149.70,264.30 1150.59,264.12 1151.46,263.62 1152.31,262.88 1153.16,262.01 1154.02,261.08 1154.90,260.20 1156.05,258.92 1157.23,257.33 1158.43,255.67 1159.63,254.16 1160.79,253.06 1161.90,252.60 1162.71,252.77 1163.48,253.29 1164.23,254.06 1164.98,254.96 1165.77,255.88 1166.60,256.70 1167.67,257.62 1168.79,258.59 1169.96,259.58 1171.15,260.58 1172.37,261.56 1173.60,262.50 1174.93,263.57 1176.35,264.80 1177.79,266.00 1179.19,267.02 1180.52,267.68 1181.70,267.80 1182.62,267.39 1183.44,266.59 1184.18,265.49 1184.89,264.20 1185.62,262.80 1186.40,261.40 1187.64,258.85 1188.87,255.67 1190.13,252.25 1191.45,248.99 1192.90,246.27 1194.50,244.50 1195.61,244.05 1196.83,244.00 1198.09,244.15 1199.33,244.32 1200.48,244.30 1201.50,243.90 1202.57,242.82 1203.46,241.34 1204.21,239.55 1204.88,237.56 1205.53,235.47 1206.20,233.40 1207.04,230.50 1207.80,227.21 1208.50,223.76 1209.21,220.39 1209.96,217.32 1210.80,214.80 1211.34,213.48 1211.90,212.18 1212.47,210.99 1213.06,210.00 1213.67,209.30 1214.30,209.00 1214.85,209.10 1215.42,209.48 1216.00,210.07 1216.59,210.82 1217.19,211.65 1217.80,212.50 1218.88,214.41 1219.98,216.97 1221.12,219.78 1222.29,222.46 1223.52,224.63 1224.80,225.90 1225.54,226.17 1226.30,226.24 1227.08,226.15 1227.87,225.94 1228.67,225.64 1229.50,225.30 1230.76,224.56 1232.06,223.48 1233.40,222.22 1234.77,220.93 1236.17,219.77 1237.60,218.90 1238.93,218.30 1240.31,217.74 1241.71,217.30 1243.11,217.00 1244.48,216.92 1245.80,217.10 1247.25,217.69 1248.67,218.67 1250.06,219.91 1251.40,221.30 1252.69,222.74 1253.90,224.10 1254.95,225.43 1255.88,226.88 1256.75,228.37 1257.63,229.82 1258.59,231.15 1259.70,232.30 1260.93,233.16 1262.29,233.83 1263.72,234.39 1265.17,234.94 1266.58,235.55 1267.90,236.30 1269.15,237.31 1270.34,238.52 1271.49,239.79 1272.62,240.99 1273.75,242.01 1274.90,242.70 1275.76,242.93 1276.64,242.97 1277.51,242.91 1278.37,242.83 1279.20,242.83 1280.00,243.00 1280.76,243.32 1281.49,243.72 1282.19,244.20 1282.87,244.75 1283.54,245.39 1284.20,246.10 1285.15,247.31 1286.08,248.73 1286.99,250.32 1287.87,252.01 1288.71,253.76 1289.50,255.50 1290.27,257.51 1290.94,259.64 1291.55,261.84 1292.18,264.04 1292.87,266.18 1293.70,268.20 1294.63,270.21 1295.66,272.43 1296.76,274.59 1297.88,276.45 1298.98,277.74 1300.00,278.20 1300.91,277.59 1301.75,276.08 1302.58,274.02 1303.41,271.78 1304.31,269.72 1305.30,268.20 1306.11,267.36 1306.97,266.55 1307.86,265.84 1308.76,265.29 1309.65,264.99 1310.50,265.00 1311.59,265.87 1312.58,267.65 1313.55,269.89 1314.55,272.16 1315.65,274.01 1316.90,275.00 1318.17,274.96 1319.57,274.31 1321.04,273.33 1322.52,272.31 1323.96,271.54 1325.30,271.30 1326.44,271.72 1327.55,272.60 1328.63,273.68 1329.66,274.70 1330.66,275.43 1331.60,275.60 1332.58,274.97 1333.44,273.68 1334.25,272.00 1335.06,270.17 1335.92,268.46 1336.90,267.10 1337.83,266.19 1338.80,265.37 1339.80,264.62 1340.87,263.96 1341.99,263.39 1343.20,262.90 1344.81,262.58 1346.62,262.56 1348.52,262.66 1350.40,262.70 1352.17,262.50 1353.70,261.90 1355.05,260.67 1356.18,258.97 1357.15,257.00 1358.08,254.95 1359.03,252.98 1360.10,251.30 1361.10,249.96 1362.14,248.56 1363.19,247.22 1364.26,246.09 1365.33,245.31 1366.40,245.00 1367.43,245.36 1368.45,246.31 1369.47,247.59 1370.51,248.94 1371.58,250.09 1372.70,250.80 1373.71,251.04 1374.77,251.11 1375.86,251.04 1376.94,250.86 1378.00,250.60 1379.00,250.30 1379.94,249.84 1380.83,249.16 1381.70,248.42 1382.56,247.73 1383.42,247.25 1384.30,247.10 1385.35,247.41 1386.43,248.09 1387.51,249.04 1388.58,250.15 1389.62,251.31 1390.60,252.40 1391.57,253.49 1392.50,254.63 1393.39,255.82 1394.25,257.07 1395.09,258.39 1395.90,259.80 1396.81,261.75 1397.62,263.94 1398.39,266.24 1399.19,268.51 1400.07,270.61 1401.10,272.40 1402.06,273.53 1403.14,274.48 1404.27,275.32 1405.40,276.14 1406.46,277.00 1407.40,278.00 1408.22,279.10 1408.97,280.22 1409.65,281.40 1410.28,282.66 1410.86,284.01 1411.40,285.50 1412.04,287.94 1412.52,290.71 1412.90,293.69 1413.25,296.76 1413.63,299.80 1414.10,302.70 1414.63,305.39 1415.18,308.10 1415.76,310.78 1416.37,313.39 1417.02,315.88 1417.70,318.20 1418.23,319.98 1418.75,321.78 1419.29,323.50 1419.88,325.05 1420.58,326.35 1421.40,327.30 1422.08,327.77 1422.84,328.13 1423.65,328.37 1424.46,328.48 1425.22,328.43 1425.90,328.20 1426.68,327.51 1427.34,326.40 1427.91,324.98 1428.43,323.37 1428.95,321.67 1429.50,320.00 1430.22,317.51 1430.83,314.65 1431.42,311.62 1432.11,308.64 1432.97,305.90 1434.10,303.60 1435.24,302.01 1436.56,300.47 1437.99,299.09 1439.47,297.95 1440.92,297.16 1442.30,296.80 1443.36,297.00 1444.39,297.63 1445.40,298.50 1446.43,299.40 1447.49,300.13 1448.60,300.50 1449.91,300.48 1451.29,300.19 1452.72,299.71 1454.14,299.10 1455.52,298.41 1456.80,297.70 1457.99,296.84 1459.14,295.74 1460.25,294.57 1461.30,293.50 1462.29,292.68 1463.20,292.30 1463.70,292.28 1464.18,292.36 1464.63,292.54 1465.06,292.80 1465.48,293.16 1465.90,293.60 1466.80,295.17 1467.62,297.45 1468.36,300.22 1469.07,303.24 1469.78,306.28 1470.50,309.10 1471.23,312.23 1471.92,315.83 1472.60,319.46 1473.31,322.65 1474.10,324.95 1475.00,325.90 1475.81,325.45 1476.70,324.10 1477.63,322.20 1478.58,320.06 1479.55,318.02 1480.50,316.40 1481.24,315.31 1482.00,314.16 1482.76,313.07 1483.52,312.17 1484.27,311.57 1485.00,311.40 1485.93,312.01 1486.82,313.43 1487.70,315.39 1488.59,317.62 1489.51,319.85 1490.50,321.80 1491.66,323.65 1492.94,325.53 1494.25,327.41 1495.54,329.25 1496.71,331.03 1497.70,332.70 1498.28,333.81 1498.78,334.84 1499.21,335.82 1499.62,336.83 1500.04,337.90 1500.50,339.10 1501.20,341.37 1501.89,344.23 1502.61,347.23 1503.35,349.94 1504.14,351.91 1505.00,352.70 1505.95,351.74 1506.98,349.24 1508.05,345.97 1509.15,342.68 1510.28,340.14 1511.40,339.10 1512.53,339.99 1513.72,342.26 1514.92,345.23 1516.10,348.20 1517.21,350.49 1518.20,351.40 1518.81,351.15 1519.39,350.48 1519.93,349.49 1520.45,348.26 1520.93,346.90 1521.40,345.50 1522.08,341.98 1522.46,337.28 1522.74,332.06 1523.13,327.00 1523.81,322.76 1525.00,320.00 1525.78,319.35 1526.68,319.01 1527.65,318.86 1528.63,318.76 1529.60,318.58 1530.50,318.20 1531.48,317.35 1532.45,316.17 1533.39,314.88 1534.29,313.72 1535.13,312.92 1535.90,312.70 1536.66,313.24 1537.31,314.40 1537.88,316.01 1538.42,317.90 1538.95,319.89 1539.50,321.80 1540.25,324.98 1540.90,328.95 1541.54,333.13 1542.24,336.91 1543.06,339.70 1544.10,340.90 1545.14,340.46 1546.31,339.02 1547.57,336.91 1548.87,334.48 1550.16,332.07 1551.40,330.00 1552.58,328.06 1553.81,325.84 1555.03,323.63 1556.19,321.72 1557.23,320.41 1558.10,320.00 1558.70,320.49 1559.16,321.61 1559.53,323.21 1559.85,325.13 1560.16,327.21 1560.50,329.30 1561.13,333.56 1561.68,338.63 1562.20,344.26 1562.73,350.18 1563.32,356.15 1564.00,361.90 1564.79,368.61 1565.61,376.36 1566.49,384.16 1567.46,391.01 1568.56,395.92 1569.80,397.90 1570.70,397.41 1571.69,395.89 1572.73,393.63 1573.77,390.89 1574.74,387.96 1575.60,385.10 1576.66,379.94 1577.46,373.57 1578.10,366.70 1578.70,360.04 1579.36,354.31 1580.20,350.20 1580.58,349.04 1580.98,347.94 1581.39,346.99 1581.81,346.23 1582.21,345.75 1582.60,345.60 1583.21,346.28 1583.80,347.98 1584.37,350.44 1584.92,353.36 1585.46,356.47 1586.00,359.50 1586.77,365.48 1587.40,373.21 1588.01,381.44 1588.69,388.94 1589.55,394.44 1590.70,396.70 1591.55,396.23 1592.50,394.77 1593.51,392.62 1594.55,390.09 1595.56,387.48 1596.50,385.10 1597.55,382.03 1598.55,378.32 1599.53,374.50 1600.48,371.10 1601.40,368.66 1602.30,367.70 1602.92,368.00 1603.53,368.87 1604.14,370.20 1604.72,371.88 1605.28,373.78 1605.80,375.80 1606.96,382.47 1607.84,391.35 1608.55,401.81 1609.16,413.21 1609.78,424.92 1610.50,436.30 1611.45,451.93 1612.40,470.64 1613.36,489.80 1614.32,506.76 1615.30,518.87 1616.30,523.50 1617.25,519.86 1618.22,510.20 1619.20,496.48 1620.19,480.61 1621.16,464.54 1622.10,450.20 1623.06,433.75 1623.94,414.45 1624.81,394.90 1625.72,377.70 1626.73,365.43 1627.90,360.70 1628.46,361.29 1629.05,362.98 1629.66,365.52 1630.27,368.67 1630.86,372.18 1631.40,375.80 1632.51,386.73 1633.42,401.25 1634.20,417.84 1634.89,435.01 1635.57,451.23 1636.30,465.00 1636.77,473.75 1637.17,482.98 1637.56,491.78 1638.01,499.22 1638.56,504.40 1639.30,506.40 1639.71,506.10 1640.16,505.19 1640.63,503.83 1641.11,502.14 1641.57,500.29 1642.00,498.40 1642.77,493.72 1643.41,487.81 1643.99,481.12 1644.57,474.15 1645.22,467.35 1646.00,461.20 1646.77,455.89 1647.61,450.04 1648.50,444.33 1649.42,439.41 1650.36,435.94 1651.30,434.60 1651.95,435.16 1652.63,436.70 1653.31,438.91 1654.00,441.49 1654.66,444.12 1655.30,446.50 1655.99,449.39 1656.63,452.83 1657.26,456.34 1657.88,459.44 1658.52,461.66 1659.20,462.50 1660.06,461.30 1660.96,458.17 1661.89,453.78 1662.82,448.82 1663.73,443.96 1664.60,439.90 1665.29,436.71 1665.94,433.19 1666.58,429.75 1667.23,426.79 1667.90,424.71 1668.60,423.90 1669.23,424.31 1669.90,425.50 1670.58,427.30 1671.25,429.53 1671.90,432.02 1672.50,434.60 1673.71,441.85 1674.73,451.21 1675.61,461.98 1676.40,473.45 1677.15,484.92 1677.90,495.70 1678.62,507.31 1679.26,520.62 1679.86,533.93 1680.45,545.55 1681.09,553.77 1681.80,556.90 1682.40,554.89 1683.02,549.61 1683.66,542.26 1684.33,534.01 1685.04,526.07 1685.80,519.60 1686.32,515.29 1686.77,510.73 1687.24,506.35 1687.83,502.55 1688.65,499.76 1689.80,498.40 1690.75,498.41 1691.87,498.97 1693.07,499.94 1694.30,501.15 1695.46,502.45 1696.50,503.70 1697.56,505.11 1698.53,506.62 1699.43,508.27 1700.26,510.07 1701.04,512.07 1701.80,514.30 1702.96,518.85 1703.93,524.25 1704.76,530.23 1705.53,536.50 1706.28,542.82 1707.10,548.90 1707.98,554.99 1708.85,561.11 1709.71,567.26 1710.58,573.47 1711.47,579.74 1712.40,586.10 1713.44,593.04 1714.53,600.09 1715.64,607.22 1716.76,614.39 1717.89,621.57 1719.00,628.70"/></defs>
<use href="#ct" stroke="#d4f7f7" stroke-width="4.6"/>
<use href="#cg" stroke="#c4f8d6" stroke-width="4.4" stroke-opacity="0.85"/>
<use href="#ct" stroke="#1f6f6f" stroke-width="2.35"/>
<use href="#cg" stroke="#34e070" stroke-width="2.4"/>
<polyline fill="none" stroke="#1f7060" stroke-width="1.1" stroke-dasharray="2.5 9" stroke-opacity="0.55" points="1014.20,271.60 1014.94,268.98 1015.64,266.31 1016.34,263.64 1017.07,261.02 1017.88,258.49 1018.80,256.10 1019.70,254.08 1020.66,252.10 1021.67,250.20 1022.74,248.39 1023.85,246.72 1025.00,245.20 1025.98,244.02 1027.00,242.83 1028.06,241.73 1029.12,240.80 1030.17,240.13 1031.20,239.80 1031.99,239.81 1032.76,240.01 1033.52,240.38 1034.29,240.88 1035.08,241.46 1035.90,242.10 1037.34,243.45 1038.86,245.22 1040.43,247.23 1042.03,249.32 1043.62,251.30 1045.20,253.00 1046.52,254.14 1047.88,255.11 1049.24,256.02 1050.57,256.94 1051.83,257.97 1053.00,259.20 1054.21,260.97 1055.28,263.01 1056.26,265.19 1057.20,267.42 1058.16,269.59 1059.20,271.60 1060.17,273.29 1061.13,274.96 1062.12,276.58 1063.14,278.13 1064.22,279.58 1065.40,280.90 1066.60,282.12 1067.91,283.39 1069.27,284.57 1070.64,285.54 1071.97,286.16 1073.20,286.30 1074.32,285.86 1075.36,284.92 1076.36,283.64 1077.35,282.17 1078.35,280.67 1079.40,279.30 1080.67,277.61 1082.01,275.58 1083.36,273.52 1084.69,271.70 1085.95,270.43 1087.10,270.00 1088.00,270.40 1088.84,271.37 1089.63,272.75 1090.38,274.38 1091.10,276.11 1091.80,277.80 1092.70,280.24 1093.49,283.00 1094.23,285.96 1094.94,289.01 1095.69,292.02 1096.50,294.90 1097.33,297.89 1098.17,301.25 1099.03,304.60 1099.94,307.50 1100.89,309.57 1101.90,310.40 1102.95,309.71 1104.05,307.78 1105.20,305.05 1106.40,301.96 1107.63,298.93 1108.90,296.40 1110.13,294.31 1111.43,292.10 1112.76,289.95 1114.09,288.03 1115.38,286.52 1116.60,285.60 1117.19,285.38 1117.76,285.29 1118.32,285.31 1118.87,285.41 1119.43,285.58 1120.00,285.80 1120.79,286.35 1121.60,287.22 1122.42,288.21 1123.22,289.12 1123.98,289.75 1124.70,289.90 1125.60,289.20 1126.41,287.70 1127.16,285.66 1127.87,283.33 1128.58,280.96 1129.30,278.80 1130.09,276.55 1130.84,274.18 1131.58,271.76 1132.34,269.36 1133.14,267.05 1134.00,264.90 1134.80,263.01 1135.63,260.97 1136.49,259.01 1137.38,257.30 1138.28,256.07 1139.20,255.50 1139.85,255.59 1140.51,256.02 1141.17,256.68 1141.85,257.47 1142.56,258.28 1143.30,259.00 1144.29,259.94 1145.35,261.08 1146.45,262.24 1147.56,263.27 1148.65,264.01 1149.70,264.30 1150.59,264.12 1151.46,263.62 1152.31,262.88 1153.16,262.01 1154.02,261.08 1154.90,260.20 1156.05,258.92 1157.23,257.33 1158.43,255.67 1159.63,254.16 1160.79,253.06 1161.90,252.60 1162.71,252.77 1163.48,253.29 1164.23,254.06 1164.98,254.96 1165.77,255.88 1166.60,256.70 1167.67,257.62 1168.79,258.59 1169.96,259.58 1171.15,260.58 1172.37,261.56 1173.60,262.50 1174.93,263.57 1176.35,264.80 1177.79,266.00 1179.19,267.02 1180.52,267.68 1181.70,267.80 1182.62,267.39 1183.44,266.59 1184.18,265.49 1184.89,264.20 1185.62,262.80 1186.40,261.40 1187.64,258.85 1188.87,255.67 1190.13,252.25 1191.45,248.99 1192.90,246.27 1194.50,244.50 1195.61,244.05 1196.83,244.00 1198.09,244.15 1199.33,244.32 1200.48,244.30 1201.50,243.90 1202.57,242.82 1203.46,241.34 1204.21,239.55 1204.88,237.56 1205.53,235.47 1206.20,233.40 1207.04,230.50 1207.80,227.21 1208.50,223.76 1209.21,220.39 1209.96,217.32 1210.80,214.80 1211.34,213.48 1211.90,212.18 1212.47,210.99 1213.06,210.00 1213.67,209.30 1214.30,209.00 1214.85,209.10 1215.42,209.48 1216.00,210.07 1216.59,210.82 1217.19,211.65 1217.80,212.50 1218.88,214.41 1219.98,216.97 1221.12,219.78 1222.29,222.46 1223.52,224.63 1224.80,225.90 1225.54,226.17 1226.30,226.24 1227.08,226.15 1227.87,225.94 1228.67,225.64 1229.50,225.30 1230.76,224.56 1232.06,223.48 1233.40,222.22 1234.77,220.93 1236.17,219.77 1237.60,218.90 1238.93,218.30 1240.31,217.74 1241.71,217.30 1243.11,217.00 1244.48,216.92 1245.80,217.10 1247.25,217.69 1248.67,218.67 1250.06,219.91 1251.40,221.30 1252.69,222.74 1253.90,224.10 1254.95,225.43 1255.88,226.88 1256.75,228.37 1257.63,229.82 1258.59,231.15 1259.70,232.30 1260.93,233.16 1262.29,233.83 1263.72,234.39 1265.17,234.94 1266.58,235.55 1267.90,236.30 1269.15,237.31 1270.34,238.52 1271.49,239.79 1272.62,240.99 1273.75,242.01 1274.90,242.70 1275.76,242.93 1276.64,242.97 1277.51,242.91 1278.37,242.83 1279.20,242.83 1280.00,243.00 1280.76,243.32 1281.49,243.72 1282.19,244.20 1282.87,244.75 1283.54,245.39 1284.20,246.10 1285.15,247.31 1286.08,248.73 1286.99,250.32 1287.87,252.01 1288.71,253.76 1289.50,255.50 1290.27,257.51 1290.94,259.64 1291.55,261.84 1292.18,264.04 1292.87,266.18 1293.70,268.20 1294.63,270.21 1295.66,272.43 1296.76,274.59 1297.88,276.45 1298.98,277.74 1300.00,278.20 1300.91,277.59 1301.75,276.08 1302.58,274.02 1303.41,271.78 1304.31,269.72 1305.30,268.20 1306.11,267.36 1306.97,266.55 1307.86,265.84 1308.76,265.29 1309.65,264.99 1310.50,265.00 1311.59,265.87 1312.58,267.65 1313.55,269.89 1314.55,272.16 1315.65,274.01 1316.90,275.00 1318.17,274.96 1319.57,274.31 1321.04,273.33 1322.52,272.31 1323.96,271.54 1325.30,271.30 1326.44,271.72 1327.55,272.60 1328.63,273.68 1329.66,274.70 1330.66,275.43 1331.60,275.60 1332.58,274.97 1333.44,273.68 1334.25,272.00 1335.06,270.17 1335.92,268.46 1336.90,267.10 1337.83,266.19 1338.80,265.37 1339.80,264.62 1340.87,263.96 1341.99,263.39 1343.20,262.90 1344.81,262.58 1346.62,262.56 1348.52,262.66 1350.40,262.70 1352.17,262.50 1353.70,261.90 1355.05,260.67 1356.18,258.97 1357.15,257.00 1358.08,254.95 1359.03,252.98 1360.10,251.30 1361.10,249.96 1362.14,248.56 1363.19,247.22 1364.26,246.09 1365.33,245.31 1366.40,245.00 1367.43,245.36 1368.45,246.31 1369.47,247.59 1370.51,248.94 1371.58,250.09 1372.70,250.80 1373.71,251.04 1374.77,251.11 1375.86,251.04 1376.94,250.86 1378.00,250.60 1379.00,250.30 1379.94,249.84 1380.83,249.16 1381.70,248.42 1382.56,247.73 1383.42,247.25 1384.30,247.10 1385.35,247.41 1386.43,248.09 1387.51,249.04 1388.58,250.15 1389.62,251.31 1390.60,252.40 1391.57,253.49 1392.50,254.63 1393.39,255.82 1394.25,257.07 1395.09,258.39 1395.90,259.80 1396.81,261.75 1397.62,263.94 1398.39,266.24 1399.19,268.51 1400.07,270.61 1401.10,272.40 1402.06,273.53 1403.14,274.48 1404.27,275.32 1405.40,276.14 1406.46,277.00 1407.40,278.00 1408.22,279.10 1408.97,280.22 1409.65,281.40 1410.28,282.66 1410.86,284.01 1411.40,285.50 1412.04,287.94 1412.52,290.71 1412.90,293.69 1413.25,296.76 1413.63,299.80 1414.10,302.70 1414.63,305.39 1415.18,308.10 1415.76,310.78 1416.37,313.39 1417.02,315.88 1417.70,318.20 1418.23,319.98 1418.75,321.78 1419.29,323.50 1419.88,325.05 1420.58,326.35 1421.40,327.30 1422.08,327.77 1422.84,328.13 1423.65,328.37 1424.46,328.48 1425.22,328.43 1425.90,328.20 1426.68,327.51 1427.34,326.40 1427.91,324.98 1428.43,323.37 1428.95,321.67 1429.50,320.00 1430.22,317.51 1430.83,314.65 1431.42,311.62 1432.11,308.64 1432.97,305.90 1434.10,303.60 1435.24,302.01 1436.56,300.47 1437.99,299.09 1439.47,297.95 1440.92,297.16 1442.30,296.80 1443.36,297.00 1444.39,297.63 1445.40,298.50 1446.43,299.40 1447.49,300.13 1448.60,300.50 1449.91,300.48 1451.29,300.19 1452.72,299.71 1454.14,299.10 1455.52,298.41 1456.80,297.70 1457.99,296.84 1459.14,295.74 1460.25,294.57 1461.30,293.50 1462.29,292.68 1463.20,292.30 1463.70,292.28 1464.18,292.36 1464.63,292.54 1465.06,292.80 1465.48,293.16 1465.90,293.60 1466.80,295.17 1467.62,297.45 1468.36,300.22 1469.07,303.24 1469.78,306.28 1470.50,309.10 1471.23,312.23 1471.92,315.83 1472.60,319.46 1473.31,322.65 1474.10,324.95 1475.00,325.90 1475.81,325.45 1476.70,324.10 1477.63,322.20 1478.58,320.06 1479.55,318.02 1480.50,316.40 1481.24,315.31 1482.00,314.16 1482.76,313.07 1483.52,312.17 1484.27,311.57 1485.00,311.40 1485.93,312.01 1486.82,313.43 1487.70,315.39 1488.59,317.62 1489.51,319.85 1490.50,321.80 1491.66,323.65 1492.94,325.53 1494.25,327.41 1495.54,329.25 1496.71,331.03 1497.70,332.70 1498.28,333.81 1498.78,334.84 1499.21,335.82 1499.62,336.83 1500.04,337.90 1500.50,339.10 1501.20,341.37 1501.89,344.23 1502.61,347.23 1503.35,349.94 1504.14,351.91 1505.00,352.70 1505.95,351.74 1506.98,349.24 1508.05,345.97 1509.15,342.68 1510.28,340.14 1511.40,339.10 1512.53,339.99 1513.72,342.26 1514.92,345.23 1516.10,348.20 1517.21,350.49 1518.20,351.40 1518.81,351.15 1519.39,350.48 1519.93,349.49 1520.45,348.26 1520.93,346.90 1521.40,345.50 1522.08,341.98 1522.46,337.28 1522.74,332.06 1523.13,327.00 1523.81,322.76 1525.00,320.00 1525.78,319.35 1526.68,319.01 1527.65,318.86 1528.63,318.76 1529.60,318.58 1530.50,318.20 1531.48,317.35 1532.45,316.17 1533.39,314.88 1534.29,313.72 1535.13,312.92 1535.90,312.70 1536.66,313.24 1537.31,314.40 1537.88,316.01 1538.42,317.90 1538.95,319.89 1539.50,321.80 1540.25,324.98 1540.90,328.95 1541.54,333.13 1542.24,336.91 1543.06,339.70 1544.10,340.90 1545.14,340.46 1546.31,339.02 1547.57,336.91 1548.87,334.48 1550.16,332.07 1551.40,330.00 1552.58,328.06 1553.81,325.84 1555.03,323.63 1556.19,321.72 1557.23,320.41 1558.10,320.00 1558.70,320.49 1559.16,321.61 1559.53,323.21 1559.85,325.13 1560.16,327.21 1560.50,329.30 1561.13,333.56 1561.68,338.63 1562.20,344.26 1562.73,350.18 1563.32,356.15 1564.00,361.90 1564.79,368.61 1565.61,376.36 1566.49,384.16 1567.46,391.01 1568.56,395.92 1569.80,397.90 1570.70,397.41 1571.69,395.89 1572.73,393.63 1573.77,390.89 1574.74,387.96 1575.60,385.10 1576.66,379.94 1577.46,373.57 1578.10,366.70 1578.70,360.04 1579.36,354.31 1580.20,350.20 1580.58,349.04 1580.98,347.94 1581.39,346.99 1581.81,346.23 1582.21,345.75 1582.60,345.60 1583.21,346.28 1583.80,347.98 1584.37,350.44 1584.92,353.36 1585.46,356.47 1586.00,359.50 1586.77,365.48 1587.40,373.21 1588.01,381.44 1588.69,388.94 1589.55,394.44 1590.70,396.70 1591.55,396.23 1592.50,394.77 1593.51,392.62 1594.55,390.09 1595.56,387.48 1596.50,385.10 1597.55,382.03 1598.55,378.32 1599.53,374.50 1600.48,371.10 1601.40,368.66 1602.30,367.70 1602.92,368.00 1603.53,368.87 1604.14,370.20 1604.72,371.88 1605.28,373.78 1605.80,375.80 1606.96,382.47 1607.84,391.35 1608.55,401.81 1609.16,413.21 1609.78,424.92 1610.50,436.30 1611.45,451.93 1612.40,470.64 1613.36,489.80 1614.32,506.76 1615.30,518.87 1616.30,523.50 1617.25,519.86 1618.22,510.20 1619.20,496.48 1620.19,480.61 1621.16,464.54 1622.10,450.20 1623.06,433.75 1623.94,414.45 1624.81,394.90 1625.72,377.70 1626.73,365.43 1627.90,360.70 1628.46,361.29 1629.05,362.98 1629.66,365.52 1630.27,368.67 1630.86,372.18 1631.40,375.80 1632.51,386.73 1633.42,401.25 1634.20,417.84 1634.89,435.01 1635.57,451.23 1636.30,465.00 1636.77,473.75 1637.17,482.98 1637.56,491.78 1638.01,499.22 1638.56,504.40 1639.30,506.40 1639.71,506.10 1640.16,505.19 1640.63,503.83 1641.11,502.14 1641.57,500.29 1642.00,498.40 1642.77,493.72 1643.41,487.81 1643.99,481.12 1644.57,474.15 1645.22,467.35 1646.00,461.20 1646.77,455.89 1647.61,450.04 1648.50,444.33 1649.42,439.41 1650.36,435.94 1651.30,434.60 1651.95,435.16 1652.63,436.70 1653.31,438.91 1654.00,441.49 1654.66,444.12 1655.30,446.50 1655.99,449.39 1656.63,452.83 1657.26,456.34 1657.88,459.44 1658.52,461.66 1659.20,462.50 1660.06,461.30 1660.96,458.17 1661.89,453.78 1662.82,448.82 1663.73,443.96 1664.60,439.90 1665.29,436.71 1665.94,433.19 1666.58,429.75 1667.23,426.79 1667.90,424.71 1668.60,423.90 1669.23,424.31 1669.90,425.50 1670.58,427.30 1671.25,429.53 1671.90,432.02 1672.50,434.60 1673.71,441.85 1674.73,451.21 1675.61,461.98 1676.40,473.45 1677.15,484.92 1677.90,495.70 1678.62,507.31 1679.26,520.62 1679.86,533.93 1680.45,545.55 1681.09,553.77 1681.80,556.90 1682.40,554.89 1683.02,549.61 1683.66,542.26 1684.33,534.01 1685.04,526.07 1685.80,519.60 1686.32,515.29 1686.77,510.73 1687.24,506.35 1687.83,502.55 1688.65,499.76 1689.80,498.40 1690.75,498.41 1691.87,498.97 1693.07,499.94 1694.30,501.15 1695.46,502.45 1696.50,503.70 1697.56,505.11 1698.53,506.62 1699.43,508.27 1700.26,510.07 1701.04,512.07 1701.80,514.30 1702.96,518.85 1703.93,524.25 1704.76,530.23 1705.53,536.50 1706.28,542.82 1707.10,548.90 1707.98,554.99 1708.85,561.11 1709.71,567.26 1710.58,573.47 1711.47,579.74 1712.40,586.10 1713.44,593.04 1714.53,600.09 1715.64,607.22 1716.76,614.39 1717.89,621.57 1719.00,628.70"/>
<path d="M61.3 36H1719V841.8H61.3Z" fill="none" stroke="#3a3a3a" stroke-width="1.9"/>
</svg>
<div id="dshadow"></div><div id="dbg"></div><div id="dtb"></div><div id="dlb"></div>
<div id="dtt">FR Overlay Manager</div>
<svg width="14" height="14" style="position:absolute;left:1415px;top:433px"><path d="M1.2 1.2L12.8 12.8M12.8 1.2L1.2 12.8" stroke="#111" stroke-width="1.25"/></svg>
<div id="lvb"></div><div id="lvh"></div><div class="ht" style="left:973px">Magnitude response</div><div id="lvd"></div><div class="ht" style="left:1319px">Color</div>
<div class="sep" style="top:511px"></div>
<div class="sep" style="top:532px"></div>
<div class="sep" style="top:554px"></div>
<div class="sep" style="top:575px"></div>
<div class="sep" style="top:596px"></div>
<div class="sep" style="top:617px"></div>
<div class="sep" style="top:638px"></div>
<div class="sep" style="top:660px"></div>
<div class="sep" style="top:681px"></div>
<div class="cb" style="top:494px"></div>
<div class="rt" style="top:494.3px;color:#1e1e1e">V22_2m_gpm_breitere_bretter.pir</div>
<div class="sw" style="top:491px;background:#0080ff"></div>
<div class="cb" style="top:516px"></div>
<div class="rt" style="top:515.5px;color:#1e1e1e">V22_2m_gpm_breitere_bretter.pir</div>
<div class="sw" style="top:512px;background:#c0005c"></div>
<div class="cb" style="top:537px"></div>
<div class="rt" style="top:536.7px;color:#1e1e1e">V22_boden_luft_1,75m.pir</div>
<div class="sw" style="top:534px;background:#5a0088"></div>
<div class="cb" style="top:558px"></div>
<div class="rt" style="top:557.9px;color:#1e1e1e">V22_montiert_4m_.pir</div>
<div class="sw" style="top:555px;background:#7f7f00"></div>
<div class="cb" style="top:579px"></div>
<div class="rt" style="top:579.1px;color:#1e1e1e">V22_montiert_4m_bodenplatten.pir</div>
<div class="sw" style="top:576px;background:#ff0000"></div>
<div class="cb" style="top:600px"><svg width="12" height="12" style="position:absolute;left:0;top:0"><path d="M1.6 5.8L4.6 8.8L10.4 2.6" fill="none" stroke="#111" stroke-width="2.1"/></svg></div>
<div class="rt" style="top:600.3px;color:#1e1e1e">V22_2m_gpm_breitere_bretter.pir -&gt; 7ms Gate</div>
<div class="sw" style="top:597px;background:#0b7f7f"></div>
<div class="cb" style="top:622px"><svg width="12" height="12" style="position:absolute;left:0;top:0"><path d="M1.6 5.8L4.6 8.8L10.4 2.6" fill="none" stroke="#111" stroke-width="2.1"/></svg></div>
<div class="rt" style="top:621.5px;color:#1e1e1e">V22_2m_gpm_breitere_bretter.pir -&gt; open Gate</div>
<div class="sw" style="top:618px;background:#00ff5a"></div>
<div id="sel"></div>
<div class="cb" style="top:643px"></div>
<div class="rt" style="top:642.7px;color:#d8ecff">V22_boden_luft_2,6m.pir -&gt; 7ms Gate</div>
<div class="sw" style="top:640px;background:#0a78d8"></div>
<div class="cb" style="top:664px"></div>
<div class="rt" style="top:663.9px;color:#1e1e1e">V22_boden_luft_2,6m.pir -&gt; open Gate</div>
<div class="sw" style="top:661px;background:#804343"></div>
<div id="vsb"></div><div id="vth"></div><div id="hsb"></div><div id="hth"></div>
<svg width="480" height="260" style="position:absolute;left:960px;top:460px"><path d="M453.5 22.5L458.5 17.5L463.5 22.5" fill="none" stroke="#5a5a5a" stroke-width="2"/><path d="M453.5 215.5L458.5 220.5L463.5 215.5" fill="none" stroke="#5a5a5a" stroke-width="2"/><path d="M19 235.5L14 240L19 244.5" fill="none" stroke="#5a5a5a" stroke-width="2"/><path d="M435 235.5L440 240L435 244.5" fill="none" stroke="#5a5a5a" stroke-width="2"/></svg>
<div class="btn " style="left:964px;top:722px;width:96px"><u>A</u>dd</div>
<div class="btn " style="left:1069px;top:722px;width:108px">Add abo<u>v</u>e crs</div>
<div class="btn " style="left:1185px;top:722px;width:96px">D<u>e</u>lete sel</div>
<div class="btn " style="left:1290px;top:722px;width:66px"><u>C</u>olor</div>
<div class="btn " style="left:1365px;top:722px;width:67px">Cancel</div>
<div class="btn " style="left:964px;top:755px;width:96px"><u>R</u>eplace sel</div>
<div class="btn " style="left:1069px;top:755px;width:108px">Add <u>b</u>elow crs</div>
<div class="btn " style="left:1185px;top:755px;width:96px"><u>D</u>elete all</div>
<div class="btn " style="left:1290px;top:755px;width:67px">Check All</div>
<div class="btn ok" style="left:1365px;top:755px;width:67px">OK</div>
<div id="lf">LautsprecherForum.eu</div>
</body></html>
